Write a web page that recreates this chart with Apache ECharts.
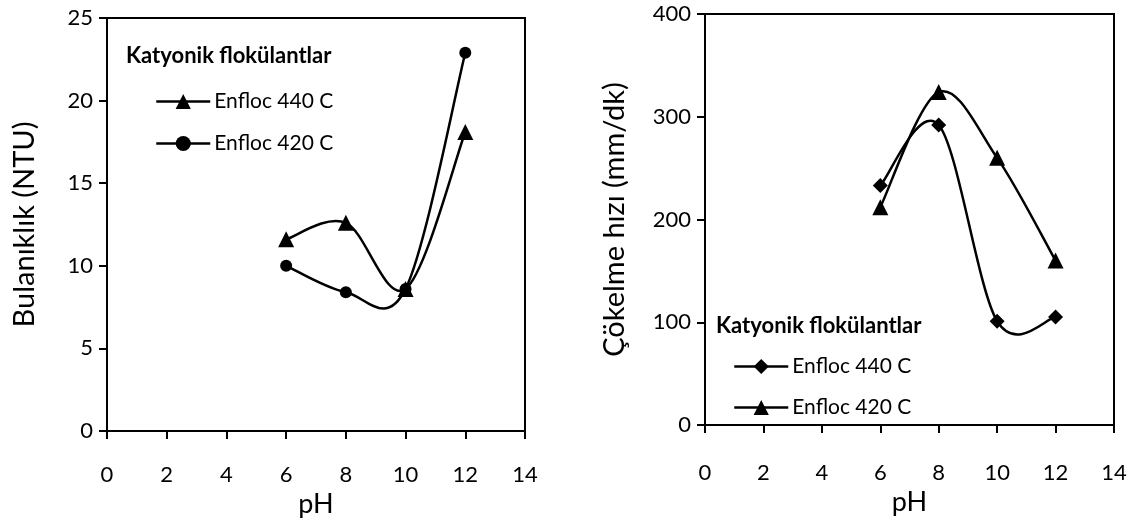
<!DOCTYPE html>
<html>
<head>
<meta charset="utf-8">
<script src="https://cdn.jsdelivr.net/npm/echarts@6/dist/echarts.min.js"></script>
<style>
  html, body { margin: 0; padding: 0; background: #fff; }
  #chart { width: 1136px; height: 525px; }
</style>
</head>
<body>
<div id="chart"></div>
<script>
// pH values (x axis)
const ph = [6, 8, 10, 12];

// left panel: turbidity (NTU)
const turb440 = [11.6, 12.6, 8.6, 18.1];
const turb420 = [10.0, 8.4, 8.6, 22.9];

// right panel: settling velocity (mm/dk)
const speed440 = [233, 292, 101, 105];
const speed420 = [212, 324, 260, 160];

const legendTitle = "Katyonik flokülantlar";

const FONT = "Lato, 'Open Sans', sans-serif";
const BLACK = "#000";

// series keys differ per panel (markers differ), legend shows the label
const labels = {
  l440: "Enfloc 440 C",
  l420: "Enfloc 420 C",
  r440: "Enfloc 440 C",
  r420: "Enfloc 420 C",
};

const pairs = (ys) => ph.map((x, i) => [x, ys[i]]);

function xAxis(gridIndex, margin, nameGap) {
  return {
    gridIndex,
    type: "value",
    min: 0,
    max: 14,
    interval: 2,
    name: "pH",
    nameLocation: "middle",
    nameGap,
    nameTextStyle: { fontFamily: FONT, fontSize: 27, color: BLACK },
    axisLine: { onZero: false, lineStyle: { color: BLACK, width: 2 } },
    axisTick: { length: 8, lineStyle: { color: BLACK, width: 2 } },
    axisLabel: { margin, fontFamily: FONT, fontSize: 22, color: BLACK },
    splitLine: { show: false },
  };
}

function yAxis(gridIndex, max, interval, name, nameGap) {
  return {
    gridIndex,
    type: "value",
    min: 0,
    max,
    interval,
    name,
    nameLocation: "middle",
    nameGap,
    nameTextStyle: { fontFamily: FONT, fontSize: 29, color: BLACK },
    axisLine: { lineStyle: { color: BLACK, width: 2 } },
    axisTick: { length: 8, lineStyle: { color: BLACK, width: 2 } },
    axisLabel: { margin: 14, fontFamily: FONT, fontSize: 22, color: BLACK },
    splitLine: { show: false },
  };
}

// markers only; the smoothed curve is drawn by a custom series
function markers(name, xi, ys, symbol, size) {
  return {
    name,
    type: "line",
    xAxisIndex: xi,
    yAxisIndex: xi,
    data: pairs(ys),
    symbol,
    symbolSize: size,
    lineStyle: { color: BLACK, width: 2.5, opacity: 0 },
    itemStyle: { color: BLACK },
    z: 4,
  };
}

// Excel-like smoothing: cubic bezier with catmull-rom tangents (1/6)
function curve(xi, ys) {
  const n = ph.length;
  return {
    type: "custom",
    xAxisIndex: xi,
    yAxisIndex: xi,
    data: pairs(ys),
    encode: { x: 0, y: 1 },
    silent: true,
    z: 3,
    renderItem: (params, api) => {
      const i = params.dataIndex;
      if (i >= n - 1) return null;
      const P = (k) => {
        const j = Math.max(0, Math.min(n - 1, k));
        return api.coord([ph[j], ys[j]]);
      };
      const p0 = P(i - 1), p1 = P(i), p2 = P(i + 1), p3 = P(i + 2);
      const t = 1 / 6;
      return {
        type: "bezierCurve",
        shape: {
          x1: p1[0], y1: p1[1],
          x2: p2[0], y2: p2[1],
          cpx1: p1[0] + (p2[0] - p0[0]) * t,
          cpy1: p1[1] + (p2[1] - p0[1]) * t,
          cpx2: p2[0] - (p3[0] - p1[0]) * t,
          cpy2: p2[1] - (p3[1] - p1[1]) * t,
        },
        style: { stroke: BLACK, lineWidth: 2.5, fill: null },
      };
    },
  };
}

function legend(left, top, gap, names) {
  return {
    left,
    top,
    orient: "vertical",
    data: names,
    itemWidth: 54,
    itemHeight: 19,
    itemGap: gap,
    formatter: (n) => labels[n],
    lineStyle: { color: BLACK, width: 2.5, opacity: 1 },
    textStyle: { fontFamily: FONT, fontSize: 21, color: BLACK, padding: [0, 0, 0, -1] },
    selectedMode: false,
  };
}

const chart = echarts.init(document.getElementById("chart"), null, { renderer: "canvas" });

chart.setOption({
  backgroundColor: "#fff",
  animation: false,
  grid: [
    { left: 107, top: 18, width: 418, height: 413, show: true, borderColor: BLACK, borderWidth: 2 },
    { left: 705, top: 14, width: 409, height: 411, show: true, borderColor: BLACK, borderWidth: 2 },
  ],
  title: [
    { text: legendTitle, left: 121, top: 40, textStyle: { fontFamily: FONT, fontSize: 22, fontWeight: "bold", color: BLACK } },
    { text: legendTitle, left: 711, top: 310, textStyle: { fontFamily: FONT, fontSize: 22, fontWeight: "bold", color: BLACK } },
  ],
  legend: [
    legend(150, 86, 21, ["l440", "l420"]),
    legend(728, 351, 20, ["r440", "r420"]),
  ],
  xAxis: [xAxis(0, 33, 58), xAxis(1, 37, 64)],
  yAxis: [
    yAxis(0, 25, 5, "Bulanıklık (NTU)", 68),
    yAxis(1, 400, 100, "Çökelme hızı (mm/dk)", 76),
  ],
  series: [
    curve(0, turb440),
    curve(0, turb420),
    curve(1, speed440),
    curve(1, speed420),
    markers("l440", 0, turb440, "triangle", 16),
    markers("l420", 0, turb420, "circle", 12),
    markers("r440", 1, speed440, "diamond", 15),
    markers("r420", 1, speed420, "triangle", 16),
  ],
});
</script>
</body>
</html>
